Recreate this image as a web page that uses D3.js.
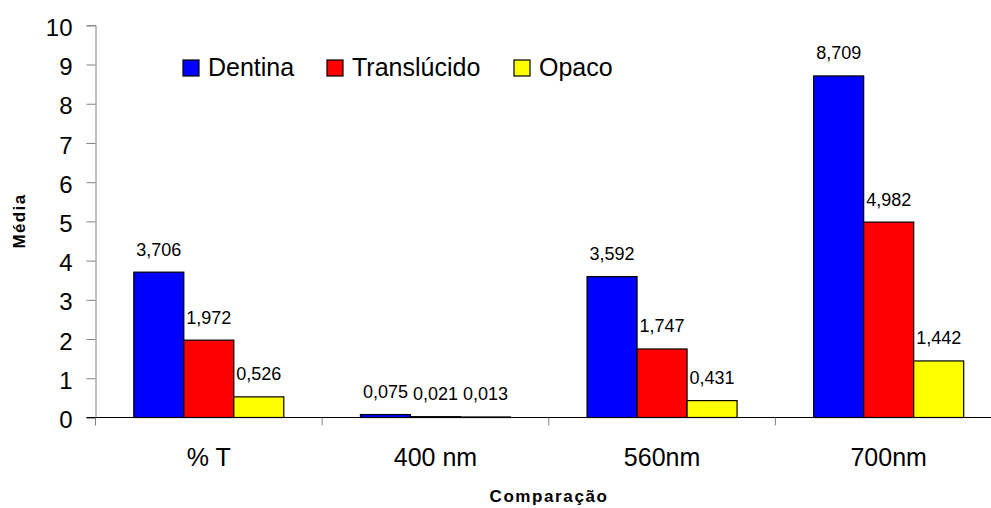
<!DOCTYPE html>
<html>
<head>
<meta charset="utf-8">
<script src="https://cdn.jsdelivr.net/npm/d3@7"></script>
<style>
  html, body { margin: 0; padding: 0; background: #fff; }
  svg { display: block; font-family: "Liberation Sans", Arial, sans-serif; }
</style>
</head>
<body>
<svg id="chart" width="991" height="508"></svg>
<script>
const categories = ["% T", "400 nm", "560nm", "700nm"];
const seriesNames = ["Dentina", "Translúcido", "Opaco"];
const seriesColors = ["#0000FF", "#FF0000", "#FFFF00"];
const dentina = [3.706, 0.075, 3.592, 8.709];
const translucido = [1.972, 0.021, 1.747, 4.982];
const opaco = [0.526, 0.013, 0.431, 1.442];
const yTicks = [0, 1, 2, 3, 4, 5, 6, 7, 8, 9, 10];

const seriesValues = [dentina, translucido, opaco];

const svg = d3.select("#chart");
const plotLeft = 95.5, plotRight = 1002, plotBottom = 417.5, plotTop = 25.3;

const x = d3.scaleBand().domain(categories).range([plotLeft, plotRight]).paddingInner(0).paddingOuter(0);
const xs = d3.scaleBand().domain(seriesNames).range([0, x.bandwidth()]).paddingInner(0).paddingOuter(0.766);
const y = d3.scaleLinear().domain([0, 10]).range([plotBottom, plotTop]);

const fmt = v => d3.format(".3f")(v).replace(".", ",");

// Y axis
const yAxis = svg.append("g")
  .attr("transform", `translate(${plotLeft},0)`)
  .call(d3.axisLeft(y).tickValues(yTicks).tickSize(9).tickPadding(14).tickFormat(d3.format("d")));
yAxis.select(".domain").attr("stroke", "#808080");
yAxis.selectAll(".tick line").attr("stroke", "#808080");
yAxis.selectAll(".tick text")
  .attr("font-size", 24).attr("fill", "#000").attr("dy", "0.42em")
  .attr("font-family", "'Liberation Sans', Arial, sans-serif");

// Bars
categories.forEach((cat, ci) => {
  const g = svg.append("g").attr("transform", `translate(${x(cat)},0)`);
  seriesNames.forEach((s, si) => {
    const v = seriesValues[si][ci];
    g.append("rect")
      .attr("x", xs(s))
      .attr("y", y(v))
      .attr("width", xs.bandwidth())
      .attr("height", y(0) - y(v))
      .attr("fill", seriesColors[si])
      .attr("stroke", "#000")
      .attr("stroke-width", 1.2);
    g.append("text")
      .attr("x", xs(s) + xs.bandwidth() / 2)
      .attr("y", y(v) - 16.5)
      .attr("text-anchor", "middle")
      .attr("font-size", 18)
      .attr("fill", "#000")
      .text(fmt(v));
  });
});

// X axis
const xAxis = svg.append("g")
  .attr("transform", `translate(0,${plotBottom})`)
  .call(d3.axisBottom(x).tickSize(0).tickPadding(0));
xAxis.select(".domain").remove();
xAxis.selectAll(".tick text").remove();
svg.append("line")
  .attr("x1", plotLeft - 9).attr("x2", plotRight)
  .attr("y1", plotBottom).attr("y2", plotBottom)
  .attr("stroke", "#000").attr("stroke-width", 1.2);
// boundary ticks
const boundaries = categories.map(c => x(c)).concat([plotRight]);
svg.selectAll(".xb").data(boundaries).enter().append("line")
  .attr("x1", d => d).attr("x2", d => d)
  .attr("y1", plotBottom).attr("y2", plotBottom + 8)
  .attr("stroke", "#808080");
// category labels
svg.selectAll(".cat").data(categories).enter().append("text")
  .attr("x", d => x(d) + x.bandwidth() / 2)
  .attr("y", 466)
  .attr("text-anchor", "middle")
  .attr("font-size", 25)
  .attr("fill", "#000")
  .text(d => d);

// Axis titles
svg.append("text")
  .attr("transform", "translate(25,221) rotate(-90)")
  .attr("text-anchor", "middle")
  .attr("font-size", 17)
  .attr("font-weight", "bold")
  .attr("letter-spacing", "1.4px")
  .text("Média");
svg.append("text")
  .attr("x", 549).attr("y", 501.5)
  .attr("text-anchor", "middle")
  .attr("font-size", 17)
  .attr("font-weight", "bold")
  .attr("letter-spacing", "1.6px")
  .text("Comparação");

// Legend
const legendX = [183, 327, 514];
const legend = svg.append("g");
seriesNames.forEach((s, i) => {
  legend.append("rect")
    .attr("x", legendX[i]).attr("y", 60)
    .attr("width", 16).attr("height", 16)
    .attr("fill", seriesColors[i]).attr("stroke", "#000").attr("stroke-width", 1.2);
  legend.append("text")
    .attr("x", legendX[i] + 25).attr("y", 76)
    .attr("font-size", 25).attr("fill", "#000")
    .text(s);
});
</script>
</body>
</html>
